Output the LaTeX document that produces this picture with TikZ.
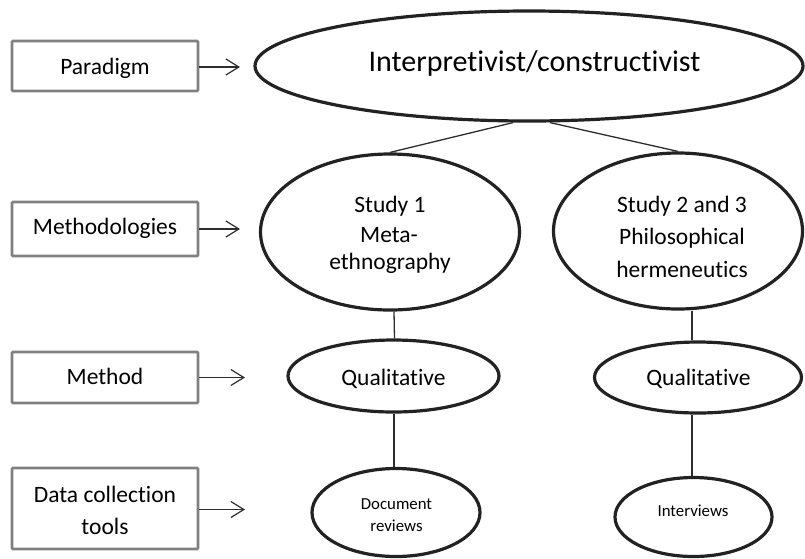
\documentclass[tikz,border=0pt]{standalone}
\usepackage{fontspec}
\setmainfont{Carlito}[Ligatures=NoCommon]
\usetikzlibrary{shapes.geometric,arrows.meta}
\definecolor{boxgray}{RGB}{128,128,128}
\definecolor{ellcol}{RGB}{34,34,34}
\definecolor{linecol}{RGB}{45,45,45}
\begin{document}
\begin{tikzpicture}[x=1pt,y=-1pt,
  lbox/.style={draw=boxgray,line width=2.7pt,rounded corners=1pt,inner sep=0pt,minimum width=186pt},
  ell/.style={ellipse,draw=ellcol,line width=3.2pt,inner sep=0pt},
  conn/.style={draw=linecol,line width=1.3pt},
  arr/.style={draw=linecol,line width=1.2pt,-{Straight Barb[length=13pt,width=16pt]}},
  txt/.style={anchor=base,inner sep=0pt,font=\fontsize{23.5}{28}\selectfont},
  bigtxt/.style={anchor=base,inner sep=0pt,font=\fontsize{30}{36}\selectfont},
  smalltxt/.style={anchor=base,inner sep=0pt,font=\fontsize{16.8}{20}\selectfont}]
\useasboundingbox (0,0) rectangle (805,558);

% left boxes
\node[lbox,minimum height=50pt] (bp) at (105,66) {};
\node[lbox,minimum height=54pt] (bm) at (105,229) {};
\node[lbox,minimum height=51pt] (bme) at (105,377.5) {};
\node[lbox,minimum height=81pt] (bd) at (105,508.5) {};
\node[txt] (tp) at (105,74) {Paradigm};
\node[txt] (tm) at (105,234.3) {Methodologies};
\node[txt] (tme) at (105,384.5) {Method};
\node[txt] (td1) at (105,502) {Data collection};
\node[txt] (td2) at (105,534) {tools};

% arrow ends
\coordinate (ap) at (240,67);
\coordinate (am) at (240,229);
\coordinate (ame) at (245,377.5);
\coordinate (ad) at (245,509.5);
\draw[arr] (bp.east |- ap) -- (ap);
\draw[arr] (bm.east |- am) -- (am);
\draw[arr] (bme.east |- ame) -- (ame);
\draw[arr] (bd.east |- ad) -- (ad);

% ellipses
\node[ell,minimum width=548pt,minimum height=110pt] (big) at (529,66) {};
\node[ell,minimum width=259pt,minimum height=156pt] (s1) at (390,232) {};
\node[ell,minimum width=249pt,minimum height=156pt] (s2) at (678,231) {};
\node[ell,minimum width=211pt,minimum height=72pt] (q1) at (393.5,376) {};
\node[ell,minimum width=207pt,minimum height=71pt] (q2) at (698,377.5) {};
\node[ell,minimum width=168pt,minimum height=88pt] (doc) at (396,512.5) {};
\node[ell,minimum width=157pt,minimum height=79pt] (int) at (693.5,517) {};

% texts
\node[bigtxt] (tbig) at (534.5,71) {Interpretivist/constructivist};
\node[txt] (ts1a) at (390,212) {Study 1};
\node[txt] (ts1b) at (389,242) {Meta-};
\node[txt] (ts1c) at (390,269) {ethnography};
\node[txt] (ts2a) at (682,212) {Study 2 and 3};
\node[txt] (ts2b) at (682,244) {Philosophical};
\node[txt] (ts2c) at (682,277.5) {hermeneutics};
\node[txt] (tq1) at (393.5,385) {Qualitative};
\node[txt] (tq2) at (698.5,385) {Qualitative};
\node[smalltxt] (tdoc1) at (396.5,509) {Document};
\node[smalltxt] (tdoc2) at (396.5,531.7) {reviews};
\node[smalltxt] (tint) at (693,516) {Interviews};

% connectors
\draw[conn] ([xshift=-16pt]big.south) -- (s1.north);
\draw[conn] ([xshift=21pt]big.south) -- (s2.north);
\draw[conn] ([xshift=4pt]s1.south) -- ([xshift=1pt]q1.north);
\draw[conn] ([xshift=0.5pt]q1.south) -- ([xshift=-2pt]doc.north);
\draw[conn] ([xshift=14pt]s2.south) -- ([xshift=-6pt]q2.north);
\draw[conn] ([xshift=-6pt]q2.south) -- ([xshift=-1.5pt]int.north);
\end{tikzpicture}
\end{document}
